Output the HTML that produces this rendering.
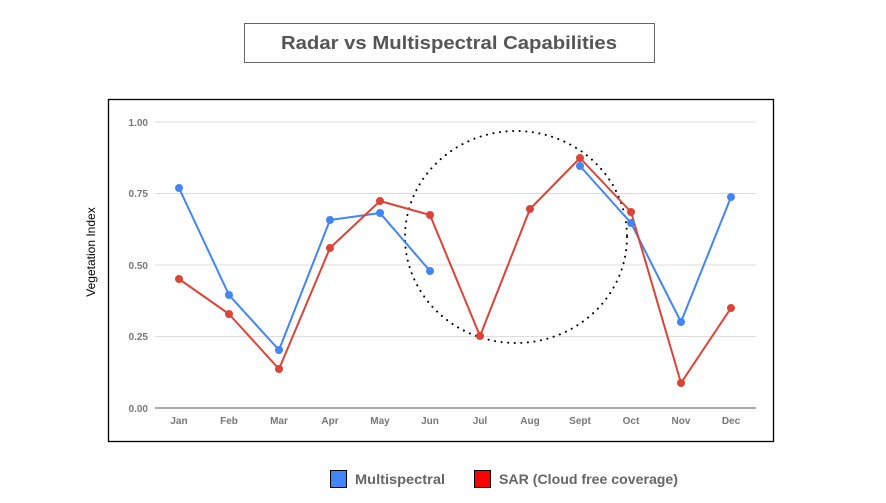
<!DOCTYPE html>
<html><head><style>
body{margin:0;background:#fff;width:886px;height:498px;overflow:hidden;font-family:"Liberation Sans",Arial,sans-serif}
</style></head><body>
<svg width="886" height="498" xmlns="http://www.w3.org/2000/svg" font-family="Liberation Sans, Arial, sans-serif">
<rect x="244.5" y="23.5" width="410" height="39" fill="#fff" stroke="#666" stroke-width="1"/>
<text x="281" y="49" font-size="18" font-weight="bold" fill="#555" textLength="336" lengthAdjust="spacingAndGlyphs">Radar vs Multispectral Capabilities</text>
<rect x="108.5" y="99.5" width="665" height="342" fill="#fff" stroke="#000" stroke-width="1.3"/>
<g stroke="#ddd" stroke-width="1">
<line x1="155" x2="756" y1="122" y2="122"/><line x1="155" x2="756" y1="193.5" y2="193.5"/>
<line x1="155" x2="756" y1="265" y2="265"/><line x1="155" x2="756" y1="336.5" y2="336.5"/>
</g>
<line x1="155" x2="756" y1="408" y2="408" stroke="#777" stroke-width="1.3"/>
<g font-size="10" font-weight="bold" fill="#777" text-anchor="end">
<text x="148" y="126">1.00</text><text x="148" y="197">0.75</text><text x="148" y="269">0.50</text><text x="148" y="340">0.25</text><text x="148" y="412">0.00</text>
</g>
<g font-size="10" font-weight="bold" fill="#777" text-anchor="middle">
<text x="179" y="424">Jan</text><text x="229" y="424">Feb</text><text x="279" y="424">Mar</text><text x="330" y="424">Apr</text><text x="380" y="424">May</text><text x="430" y="424">Jun</text><text x="480" y="424">Jul</text><text x="530" y="424">Aug</text><text x="580" y="424">Sept</text><text x="631" y="424">Oct</text><text x="681" y="424">Nov</text><text x="731" y="424">Dec</text>
</g>
<text transform="translate(95,252) rotate(-90)" text-anchor="middle" font-size="12" fill="#000">Vegetation Index</text>
<ellipse cx="516" cy="237" rx="111" ry="106" fill="none" stroke="#000" stroke-width="2" stroke-dasharray="0.1 6.5" stroke-linecap="round"/>
<g fill="none" stroke-width="2" stroke-linejoin="round">
<polyline stroke="#4285f4" points="179,188 229,295 279,350 330,220 380,213 430,271"/>
<polyline stroke="#4285f4" points="580,166 631,223 681,322 731,197"/>
<polyline stroke="#db4437" points="179,279 229,314 279,369 330,248 380,201 430,215 480,336 530,209 580,158 631,212 681,383 731,308"/>
</g>
<g fill="#4285f4">
<circle cx="179" cy="188" r="4"/><circle cx="229" cy="295" r="4"/><circle cx="279" cy="350" r="4"/><circle cx="330" cy="220" r="4"/><circle cx="380" cy="213" r="4"/><circle cx="430" cy="271" r="4"/><circle cx="580" cy="166" r="4"/><circle cx="631" cy="223" r="4"/><circle cx="681" cy="322" r="4"/><circle cx="731" cy="197" r="4"/>
</g>
<g fill="#db4437">
<circle cx="179" cy="279" r="4"/><circle cx="229" cy="314" r="4"/><circle cx="279" cy="369" r="4"/><circle cx="330" cy="248" r="4"/><circle cx="380" cy="201" r="4"/><circle cx="430" cy="215" r="4"/><circle cx="480" cy="336" r="4"/><circle cx="530" cy="209" r="4"/><circle cx="580" cy="158" r="4"/><circle cx="631" cy="212" r="4"/><circle cx="681" cy="383" r="4"/><circle cx="731" cy="308" r="4"/>
</g>
<rect x="330.5" y="470.5" width="16" height="17" fill="#4285f4" stroke="#000" stroke-width="1"/>
<text x="355" y="484" font-size="14" font-weight="bold" fill="#666" textLength="90" lengthAdjust="spacingAndGlyphs">Multispectral</text>
<rect x="474.5" y="470.5" width="16" height="17" fill="#ff0000" stroke="#000" stroke-width="1"/>
<text x="499" y="484" font-size="14" font-weight="bold" fill="#666" textLength="179" lengthAdjust="spacingAndGlyphs">SAR (Cloud free coverage)</text>
</svg>
</body></html>
